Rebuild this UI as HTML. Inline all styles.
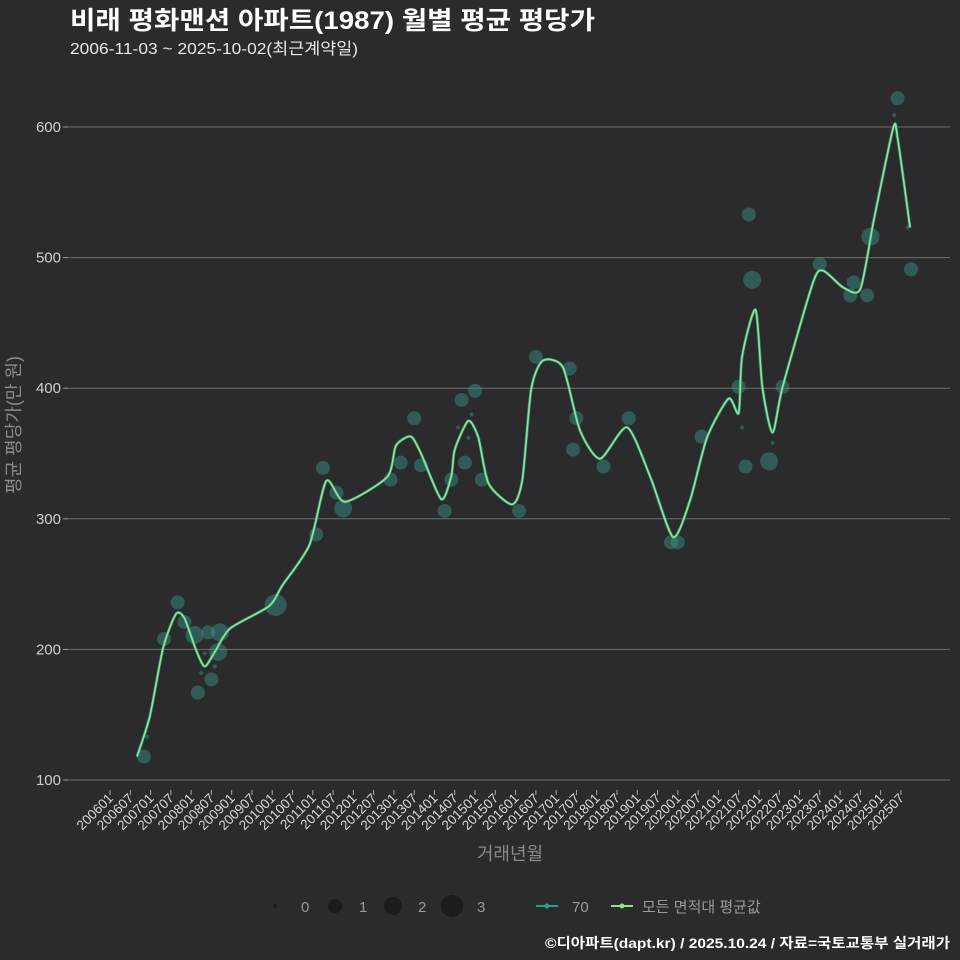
<!DOCTYPE html>
<html><head><meta charset="utf-8">
<style>
html,body{margin:0;padding:0;background:#2b2b2d;overflow:hidden;}
body{width:960px;height:960px;overflow:hidden;font-family:"Liberation Sans","Noto Sans CJK KR",sans-serif;}
svg{display:block;}
svg text{font-family:"Liberation Sans","Noto Sans CJK KR",sans-serif;}
</style></head>
<body>
<svg id="chart" width="960" height="960" xmlns="http://www.w3.org/2000/svg">
<rect width="960" height="960" fill="#2b2b2d"/>
<text x="70" y="29" font-size="25" font-weight="bold" fill="#ffffff" textLength="525" lengthAdjust="spacingAndGlyphs">비래 평화맨션 아파트(1987) 월별 평균 평당가</text>
<text x="70" y="54" font-size="16" fill="#e8e8e8" textLength="288" lengthAdjust="spacingAndGlyphs">2006-11-03 ~ 2025-10-02(최근계약일)</text>
<g id="grid"></g>
<g id="xaxis"></g>
<g id="bubbles"></g>
<g id="lines"></g>
<text x="510" y="860" font-size="18" fill="#8a8a8a" text-anchor="middle">거래년월</text>
<text transform="translate(20,425) rotate(-90)" font-size="18" fill="#8a8a8a" text-anchor="middle">평균 평당가(만 원)</text>
<g font-size="15" fill="#9a9a9a">
  <circle cx="275" cy="906" r="2" fill="#1c1c1e"/>
  <text x="301" y="912">0</text>
  <circle cx="335" cy="906" r="7" fill="#1c1c1e"/>
  <text x="359" y="912">1</text>
  <circle cx="393" cy="906" r="9" fill="#1c1c1e"/>
  <text x="418" y="912">2</text>
  <circle cx="452" cy="906" r="11" fill="#1c1c1e"/>
  <text x="477" y="912">3</text>
  <line x1="536" y1="906" x2="558" y2="906" stroke="#2a9d8f" stroke-width="2"/>
  <circle cx="547" cy="906" r="2.5" fill="#2a9d8f"/>
  <text x="572" y="912">70</text>
  <line x1="611" y1="906" x2="633" y2="906" stroke="#8fe388" stroke-width="2"/>
  <circle cx="622" cy="906" r="2.5" fill="#8fe388"/>
  <text x="642" y="912">모든 면적대 평균값</text>
</g>
<text x="950" y="948" font-size="14" font-weight="bold" fill="#ffffff" text-anchor="end" textLength="405" lengthAdjust="spacingAndGlyphs">©디아파트(dapt.kr) / 2025.10.24 / 자료=국토교통부 실거래가</text>
</svg>
<script>
const yTicks = [100, 200, 300, 400, 500, 600];
const xTickLabels = ["200601","200607","200701","200707","200801","200807","200901","200907","201001","201007","201101","201107","201201","201207","201301","201307","201401","201407","201501","201507","201601","201607","201701","201707","201801","201807","201901","201907","202001","202007","202101","202107","202201","202207","202301","202307","202401","202407","202501","202507"];
// line: months since 2006-01, value
const lineMonths = [8,11.8,15.7,19.5,22,25.4,28,31,35.5,47,51,59,64,69.5,82,84.6,89,92,98,101,102,106,109,112,119,122,124.6,128,134,139,145,153,160,166.6,171.6,176.6,183,186,187,191,193,196,199,208,211,217,222,226,231.7,233,236.7];
const lineValues = [118,149,201,227,224,200,187,198,216,233,249,280,329,313,332,356,363,350,315,333,353,375,362,327,311,330,399,421,416,368,346,370,331,286,314,362,392,381,424,460,401,366,401,481,490,477,476,529,599,592,523];
const bubbleMonths = [10,11,16,20,22,25,29,32.5,32,30,26,27,31,28,49,61,63,67,69,83,86,90,92,99,101,105,104,108,110,107,103,106,121,126,136,138,137,146,153.5,166,168,175,186,187,188,189,190,195,196,199,210,220,219,224,225,233,232,237,236];
const bubbleValues = [118,133,208,236,221,211,213,213,198,177,167,182,187,197,234,288,339,320,308,330,343,377,341,306,330,343,391,398,330,380,370,362,306,424,415,377,353,340,377,282,282,363,401,370,340,533,483,344,358,401,495,481,471,471,516,622,609,491,523];
const bubbleCounts = [1,0,1,1,1,2,1,2,2,1,1,0,0,0,3,1,1,1,2,1,1,1,1,1,1,1,1,1,1,0,0,0,1,1,1,1,1,1,1,1,1,1,1,0,1,1,2,2,0,1,1,1,1,1,2,1,0,1,0];

const NS = "http://www.w3.org/2000/svg";
const X0 = 110, PXM = 3.38;
const xs = m => X0 + m * PXM;
const ys = v => 780 - (v - 100) * 1.306;
const sizeR = [2, 7, 9, 11];
function mk(tag, attrs, parent){const e=document.createElementNS(NS,tag);for(const k in attrs)e.setAttribute(k,attrs[k]);parent.appendChild(e);return e;}

const grid = document.getElementById('grid');
yTicks.forEach(t=>{
  const l = mk('line',{x1:68,x2:950,y1:ys(t),y2:ys(t),stroke:'#6e6e6e','stroke-width':1},grid);
  
  
  mk('line',{x1:63,x2:68,y1:ys(t),y2:ys(t),stroke:'#999'},grid);
  const tx = mk('text',{x:61,y:ys(t)+5,'font-size':15,fill:'#d0d0d0','text-anchor':'end'},grid);
  tx.textContent = t;
  
  
});
const xa = document.getElementById('xaxis');
xTickLabels.forEach((lab,i)=>{
  const x = xs(i*6);
  mk('line',{x1:x,x2:x,y1:790,y2:795,stroke:'#aaa'},xa);
  const tx = mk('text',{transform:`translate(${x+4},${799}) rotate(-45)`,'font-size':13.5,fill:'#d8d8d8','text-anchor':'end'},xa);
  tx.textContent = lab;
  
  
});
const bg = document.getElementById('bubbles');
bubbleMonths.forEach((m,i)=>{
  const c = mk('circle',{cx:xs(m),cy:ys(bubbleValues[i]),r:sizeR[bubbleCounts[i]],fill:'rgba(58,150,138,0.45)'},bg);
  
  
});
function pathFor(){
  const p = lineMonths.map((m,i)=>[xs(m),ys(lineValues[i])]);
  let d = `M${p[0][0]},${p[0][1]}`;
  for(let i=0;i<p.length-1;i++){
    const p0=p[i-1]||p[i], p1=p[i], p2=p[i+1], p3=p[i+2]||p2;
    const t=0.12;
    d += ` C${p1[0]+(p2[0]-p0[0])*t},${p1[1]+(p2[1]-p0[1])*t} ${p2[0]-(p3[0]-p1[0])*t},${p2[1]-(p3[1]-p1[1])*t} ${p2[0]},${p2[1]}`;
  }
  return d;
}
const lg = document.getElementById('lines');
const d = pathFor();
const l1 = mk('path',{d:d,fill:'none',stroke:'#2a9d8f','stroke-width':3,'stroke-opacity':0.8},lg);


const l2 = mk('path',{d:d,fill:'none',stroke:'#95e68a','stroke-width':1.6},lg);


</script>
</body></html>
